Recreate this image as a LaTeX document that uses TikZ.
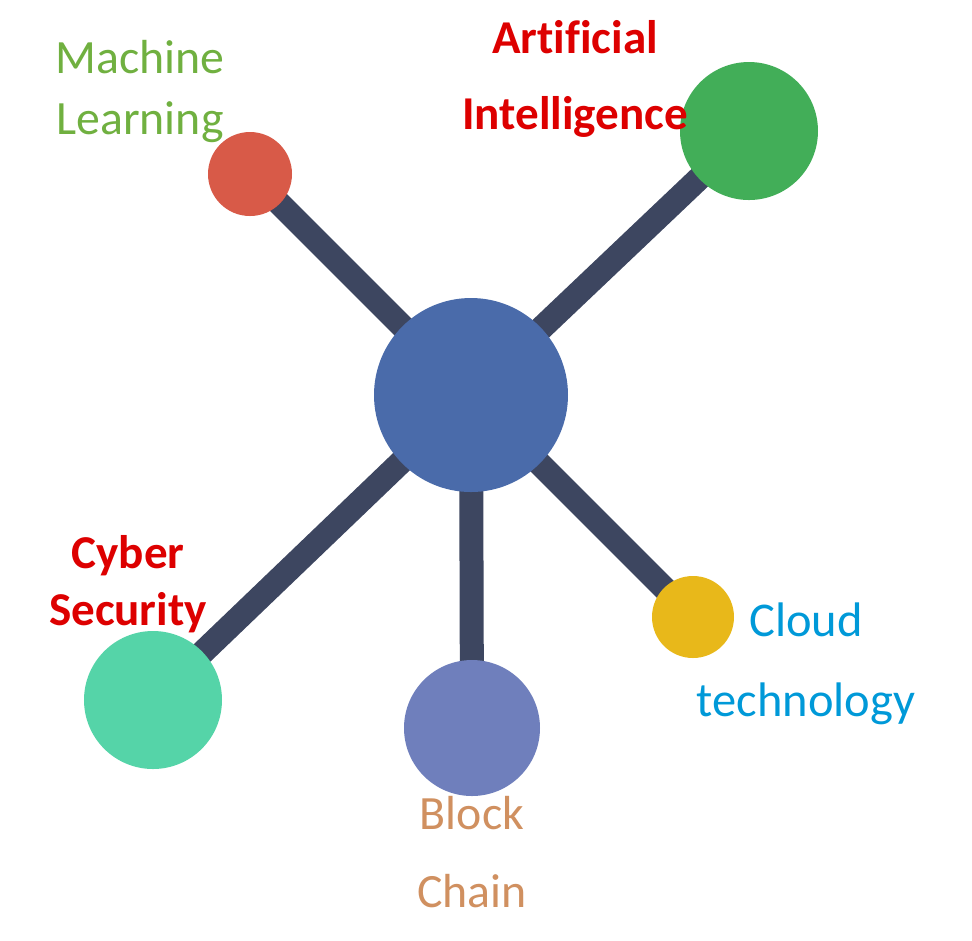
\documentclass[tikz,border=0pt]{standalone}
\usepackage{fontspec}
\setmainfont{Carlito}[Ligatures=NoCommon]
\usepackage{xcolor}
\usepackage{tikz}
\usetikzlibrary{backgrounds}

\definecolor{hubblue}{HTML}{4A6BAA}
\definecolor{mlred}{HTML}{D85A48}
\definecolor{aigreen}{HTML}{42AE58}
\definecolor{cyberteal}{HTML}{55D4A8}
\definecolor{blockblue}{HTML}{6F7FBC}
\definecolor{cloudyellow}{HTML}{E8B81A}
\definecolor{linkgray}{HTML}{3D4660}
\definecolor{txtgreen}{HTML}{70B040}
\definecolor{txtred}{HTML}{DD0000}
\definecolor{txtblue}{HTML}{0099D8}
\definecolor{txttan}{HTML}{D09060}

\begin{document}
\begin{tikzpicture}
        % Define styles
        \tikzstyle{dot} = [circle, inner sep=0pt, draw=none]
        \tikzstyle{link} = [line width=0.24cm, linkgray]
        \tikzstyle{label} = [align=center, inner sep=0pt]

        \useasboundingbox (0,0) rectangle (9.72,-9.40);

        % Nodes
        \node (hub) [dot, fill=hubblue, minimum size=1.94cm] at (4.71,-3.95) {};
        \node (ml) [dot, fill=mlred, minimum size=0.84cm] at (2.50,-1.74) {};
        \node (ai) [dot, fill=aigreen, minimum size=1.38cm] at (7.49,-1.31) {};
        \node (cyber) [dot, fill=cyberteal, minimum size=1.38cm] at (1.53,-7.00) {};
        \node (block) [dot, fill=blockblue, minimum size=1.36cm] at (4.72,-7.28) {};
        \node (cloud) [dot, fill=cloudyellow, minimum size=0.82cm] at (6.93,-6.17) {};

        % Connections
        \begin{pgfonlayer}{background}
        \draw [link] (hub.center) -- (ml.center);
        \draw [link] (hub.center) -- (ai.center);
        \draw [link] (hub.center) -- (cyber.center);
        \draw [link] (hub.center) -- (block.center);
        \draw [link] (hub.center) -- (cloud.center);
        \end{pgfonlayer}

        % Labels
        \node (mltext) [label, txtgreen, font=\fontsize{13.6}{17.1}\selectfont] at (1.40,-0.915) {Machine\\Learning};
        \node (aitext) [label, txtred, font=\fontsize{13.4}{21.6}\selectfont\bfseries] at (5.75,-0.785) {Artificial\\Intelligence};
        \node (cybertext) [label, txtred, font=\fontsize{13.4}{16.2}\selectfont\bfseries] at (1.28,-5.84) {Cyber\\Security};
        \node (cloudtext) [label, txtblue, font=\fontsize{13.8}{22.8}\selectfont] at (8.06,-6.635) {Cloud\\technology};
        \node (blocktext) [label, txttan, font=\fontsize{13.6}{22.2}\selectfont] at (4.72,-8.525) {Block\\Chain};

    \end{tikzpicture}
\end{document}
